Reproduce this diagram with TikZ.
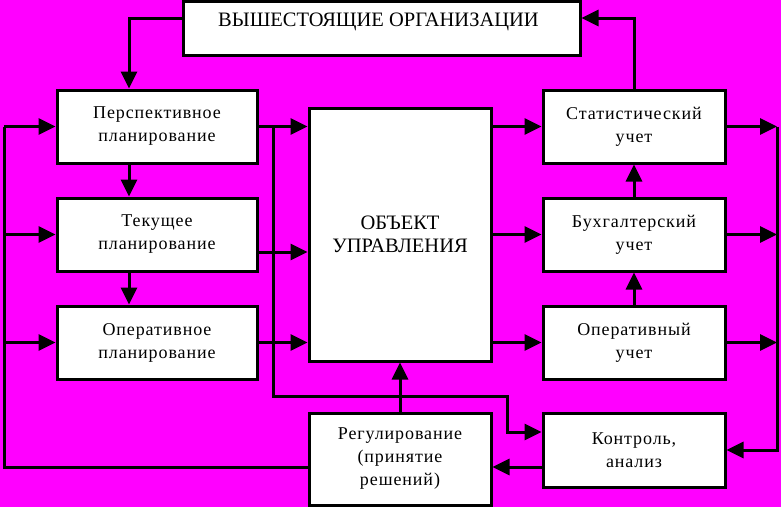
\documentclass[tikz,border=0pt]{standalone}
\usepackage{fontspec}
\setmainfont{Liberation Serif}
\newfontfamily\boxfont[LetterSpace=5]{Liberation Serif}
\usetikzlibrary{arrows.meta}
\definecolor{backdrop}{RGB}{255,0,255}
\tikzstyle{block}=[draw, fill=white, line width=3pt, inner sep=0, align=center, font=\boxfont\fontsize{18}{23}\selectfont]
\tikzstyle{big block}=[block, font=\fontsize{20.5}{23}\selectfont]
\tikzstyle{link}=[line width=3pt]
\tikzstyle{flow}=[link, -{Triangle[length=17pt, width=16pt]}]

\begin{document}
\begin{tikzpicture}[x=1pt, y=-1pt]
    \fill[backdrop] (0,0) rectangle (781,507);
    \useasboundingbox (0,0) rectangle (781,507);

    \node[block, minimum width=397pt, minimum height=54pt] (top_org) at (381.5,28) {};
    \node[font=\fontsize{20.5}{23}\selectfont] at (378.5,21.5) {ВЫШЕСТОЯЩИЕ ОРГАНИЗАЦИИ};

    \node[block, minimum width=200pt, minimum height=73pt] (plan_long) at (157,126.5) {Перспективное\\планирование};
    \node[block, minimum width=200pt, minimum height=73pt] (plan_cur) at (157,234.5) {Текущее\\планирование};
    \node[block, minimum width=200pt, minimum height=73pt] (plan_oper) at (157,342.5) {Оперативное\\планирование};
    \node[big block, minimum width=182pt, minimum height=253pt] (object) at (400,234.5) {ОБЪЕКТ\\УПРАВЛЕНИЯ};
    \node[block, minimum width=182pt, minimum height=73pt] (acc_stat) at (634,126.5) {Статистический\\учет};
    \node[block, minimum width=182pt, minimum height=73pt] (acc_book) at (634,234.5) {Бухгалтерский\\учет};
    \node[block, minimum width=182pt, minimum height=73pt] (acc_oper) at (634,342.5) {Оперативный\\учет};
    \node[block, minimum width=182pt, minimum height=74pt] (control) at (634,450) {Контроль,\\анализ};
    \node[block, minimum width=182pt, minimum height=92pt] (regul) at (400,459) {Регулирование\\(принятие\\решений)};

    \coordinate (feed) at (129,18);
    \coordinate (loop_left) at (4,467);
    \coordinate (loop_right) at (777,450);
    \coordinate (bus_left) at (273,126.5);
    \coordinate (bus_turn) at (507,396);

    % planning column
    \draw[flow] (top_org.west |- feed) -| (plan_long.north -| feed);
    \draw[flow] (plan_long.south -| feed) -- (plan_cur.north -| feed);
    \draw[flow] (plan_cur.south -| feed) -- (plan_oper.north -| feed);
    \draw[link] (regul.west |- loop_left) -- (loop_left) -- (loop_left |- plan_long.west);
    \foreach \n in {plan_long, plan_cur, plan_oper}
        \draw[flow] (loop_left |- \n.west) -- (\n.west);

    \draw[flow] (plan_long.east) -- (object.west |- plan_long.east);
    \draw[flow] (plan_cur.east |- 0,252) -- (object.west |- 0,252);
    \draw[flow] (plan_oper.east) -- (object.west |- plan_oper.east);
    \draw[flow] (bus_left) |- (bus_turn) |- (control.west |- 0,432);

    % accounting column
    \foreach \n in {acc_stat, acc_book, acc_oper} {
        \draw[flow] (object.east |- \n.west) -- (\n.west);
        \draw[flow] (\n.east) -- (loop_right |- \n.east);
    }
    \draw[flow] (loop_right |- acc_stat.east) -- (loop_right) -- (control.east);
    \draw[flow] (acc_oper.north) -- (acc_book.south);
    \draw[flow] (acc_book.north) -- (acc_stat.south);
    \draw[flow] (acc_stat.north) |- (top_org.east |- feed);

    \draw[flow] (regul.north) -- (object.south);
    \draw[flow] (control.west |- 0,467) -- (regul.east |- 0,467);
\end{tikzpicture}
\end{document}
